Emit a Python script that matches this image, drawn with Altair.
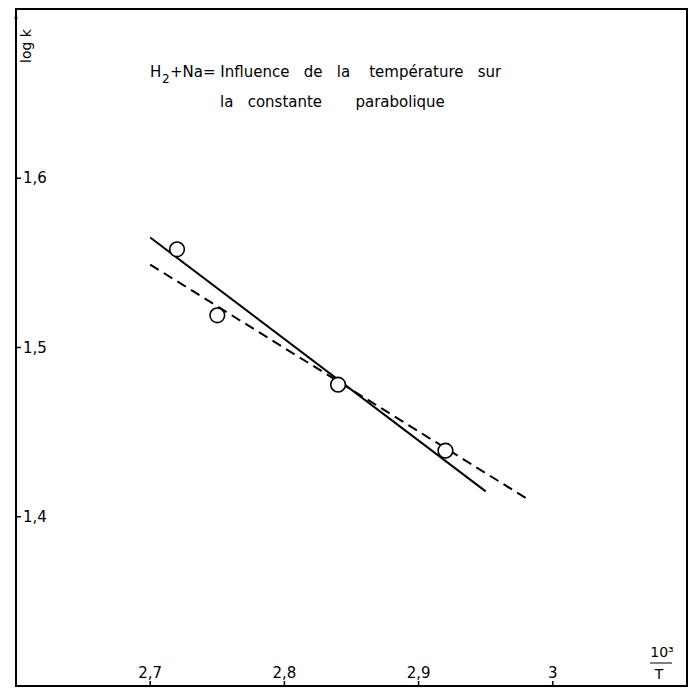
import altair as alt
import pandas as pd

# ---- data ----
x_ticks = [2.7, 2.8, 2.9, 3.0]
x_tick_labels = ["2,7", "2,8", "2,9", "3"]
y_ticks = [1.4, 1.5, 1.6]
y_tick_labels = ["1,4", "1,5", "1,6"]

point_x = [2.72, 2.75, 2.84, 2.92]
point_y = [1.558, 1.519, 1.478, 1.439]

solid_x = [2.70, 2.95]
solid_y = [1.565, 1.415]
dashed_x = [2.70, 2.98]
dashed_y = [1.549, 1.411]

SP3 = "\u00a0\u00a0 "
SP4 = "\u00a0\u00a0\u00a0 "
title_h = "H"
title_sub = "2"
title_line1_rest = "+Na=\u00a0" + "Influence" + SP3 + "de" + SP3 + "la" + SP4 + "température" + SP3 + "sur"
title_line2 = "la" + "\u00a0\u00a0 " + "constante" + "\u00a0\u00a0\u00a0\u00a0\u00a0\u00a0 " + "parabolique"
y_title = "log k"
x_title_num = "10\u00b3"
x_title_den = "T"

# ---- layout ----
W, H = 671, 677
FONT = "DejaVu Sans"
xs = alt.Scale(domain=[2.6, 3.1], nice=False, zero=False)
ys = alt.Scale(domain=[1.3, 1.7], nice=False, zero=False)

pts = pd.DataFrame({"x": point_x, "y": point_y})
solid = pd.DataFrame({"x": solid_x, "y": solid_y})
dashed = pd.DataFrame({"x": dashed_x, "y": dashed_y})
xt = pd.DataFrame({"v": x_ticks, "lab": x_tick_labels})
yt = pd.DataFrame({"v": y_ticks, "lab": y_tick_labels})

X = lambda: alt.X("x:Q", scale=xs, axis=None)
Y = lambda: alt.Y("y:Q", scale=ys, axis=None)

solid_line = alt.Chart(solid).mark_line(color="black", strokeWidth=2).encode(x=X(), y=Y())
dashed_line = alt.Chart(dashed).mark_line(color="black", strokeWidth=2, strokeDash=[10, 6]).encode(x=X(), y=Y())
circles = alt.Chart(pts).mark_point(
    shape="circle", filled=True, fill="white", stroke="black", strokeWidth=1.6, size=215, opacity=1
).encode(x=X(), y=Y())

ytick_rules = alt.Chart(yt).mark_rule(color="black", strokeWidth=1.5).encode(
    y=alt.Y("v:Q", scale=ys, axis=None), x=alt.value(0), x2=alt.value(5)
)
ytick_labels = alt.Chart(yt).mark_text(
    align="left", baseline="middle", font=FONT, fontSize=15, color="black"
).encode(y=alt.Y("v:Q", scale=ys, axis=None), x=alt.value(7), text="lab:N")

xtick_rules = alt.Chart(xt).mark_rule(color="black", strokeWidth=1.5).encode(
    x=alt.X("v:Q", scale=xs, axis=None), y=alt.value(H), y2=alt.value(H - 5)
)
xtick_labels = alt.Chart(xt).mark_text(
    align="center", baseline="alphabetic", font=FONT, fontSize=15, color="black"
).encode(x=alt.X("v:Q", scale=xs, axis=None), y=alt.value(H - 8), text="lab:N")


def label(txt, x, y, size=15, angle=0, align="center"):
    return alt.Chart(pd.DataFrame({"t": [txt]})).mark_text(
        align=align, baseline="middle", font=FONT, fontSize=size, color="black", angle=angle
    ).encode(x=alt.value(x), y=alt.value(y), text="t:N")


t_h = label(title_h, 134, 63, 15, align="left")
t_sub = label(title_sub, 146, 70, 12, align="left")
t_rest = label(title_line1_rest, 154, 63, 15, align="left")
t2 = label(title_line2, 204, 93, 15, align="left")

ylab = label(y_title, 11, 37, 14, 270)
xnum = label(x_title_num, 646, H - 33, 14)
xden = label(x_title_den, 643, H - 11, 14)
xbar = alt.Chart(pd.DataFrame({"a": [0]})).mark_rule(color="black", strokeWidth=1).encode(
    x=alt.value(634), x2=alt.value(656), y=alt.value(H - 23)
)
arrow = alt.Chart(pd.DataFrame({"a": [0]})).mark_point(
    shape="M-0.3,1L0,-1L0.3,1Z", filled=True, color="black", size=110, opacity=1
).encode(x=alt.value(0), y=alt.value(5))

chart = alt.layer(
    solid_line, dashed_line, circles,
    ytick_rules, ytick_labels, xtick_rules, xtick_labels,
    t_h, t_sub, t_rest, t2, ylab, xnum, xden, xbar, arrow,
).properties(
    width=W, height=H,
    autosize=alt.AutoSizeParams(type="none"),
    padding={"left": 8, "top": 1, "right": 2, "bottom": 1},
    background="white",
).configure_view(stroke="black", strokeWidth=2)

chart.save("out.html", embed_options={"renderer": "svg", "actions": False})
